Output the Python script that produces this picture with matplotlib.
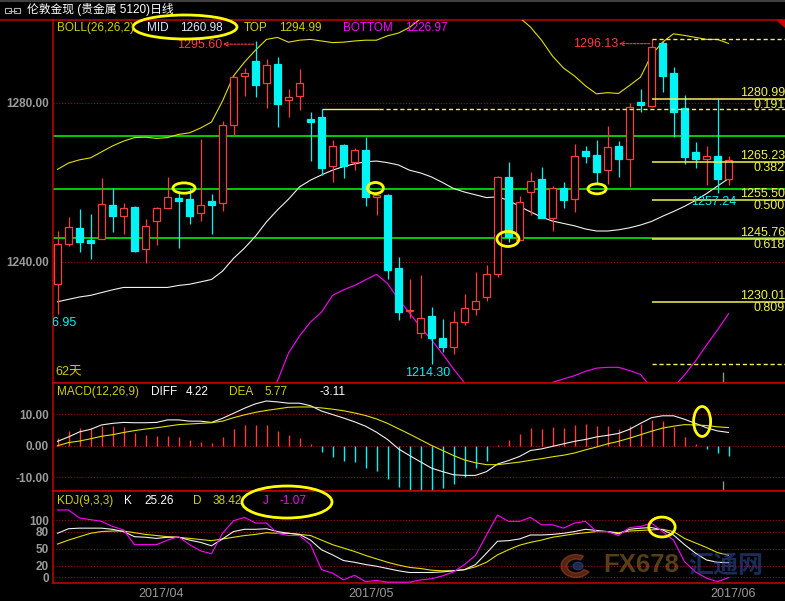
import matplotlib
matplotlib.use('Agg')
import matplotlib.pyplot as plt
from matplotlib.patches import Rectangle, Ellipse, Wedge, Circle
import matplotlib.transforms as mtransforms
import numpy as np

plt.rcParams['font.family'] = ['Liberation Sans', 'Noto Sans CJK SC', 'DejaVu Sans']

# ------------------------------------------------------------
# data
# ------------------------------------------------------------
opens = [1234.5, 1244.5, 1248.5, 1245.5, 1245.7, 1254.3, 1251.5, 1253.9, 1243.2, 1250.2,
         1253.5, 1256.1, 1255.8, 1252.3, 1255.3, 1254.8, 1274.4, 1286.7, 1290.6, 1285.0,
         1289.8, 1280.7, 1281.7, 1275.9, 1276.5, 1264.2, 1269.4, 1265.2, 1268.2, 1256.4,
         1256.9, 1238.5, 1227.6, 1222.1, 1226.4, 1221.0, 1218.7, 1224.8, 1228.1, 1231.1,
         1236.9, 1261.3, 1245.5, 1257.5, 1260.9, 1251.0, 1258.5, 1255.8, 1268.0, 1266.9,
         1263.1, 1269.2, 1265.8, 1280.3, 1279.3, 1295.0, 1287.5, 1278.7, 1267.6, 1266.0,
         1266.7, 1260.8]
highs = [1247.8, 1251.3, 1253.3, 1252.1, 1261.1, 1258.6, 1254.8, 1254.2, 1250.8, 1253.8,
         1261.4, 1257.3, 1258.5, 1270.9, 1257.1, 1275.5, 1286.8, 1288.8, 1295.6, 1291.0,
         1291.5, 1283.5, 1288.6, 1277.7, 1278.4, 1270.7, 1269.7, 1268.7, 1271.4, 1257.1,
         1257.1, 1241.3, 1235.7, 1236.7, 1228.6, 1225.7, 1227.7, 1232.0, 1237.4, 1239.2,
         1261.6, 1265.2, 1256.6, 1262.6, 1263.8, 1259.1, 1260.0, 1269.7, 1269.2, 1270.7,
         1274.2, 1270.5, 1279.9, 1283.4, 1296.13, 1295.5, 1289.0, 1282.0, 1270.3, 1269.2,
         1281.0, 1266.7]
lows = [1226.95, 1243.9, 1242.5, 1240.8, 1245.7, 1247.6, 1247.1, 1242.4, 1239.7, 1244.4,
        1253.5, 1243.6, 1249.6, 1250.4, 1247.1, 1252.9, 1272.0, 1281.8, 1281.4, 1278.8,
        1274.0, 1276.6, 1278.2, 1265.5, 1261.9, 1260.0, 1261.2, 1263.1, 1254.2, 1251.8,
        1235.7, 1225.4, 1225.8, 1220.8, 1214.3, 1217.4, 1216.8, 1224.1, 1226.7, 1230.2,
        1236.3, 1245.1, 1245.5, 1251.8, 1251.0, 1247.9, 1253.5, 1252.7, 1265.0, 1259.6,
        1259.6, 1261.5, 1258.9, 1277.8, 1279.0, 1282.7, 1271.4, 1264.6, 1263.6, 1259.4,
        1257.24, 1259.4]
closes = [1244.5, 1248.7, 1245.1, 1244.9, 1254.6, 1251.6, 1253.5, 1242.8, 1249.1, 1253.5,
          1256.4, 1255.4, 1251.6, 1254.3, 1254.4, 1274.4, 1286.5, 1287.5, 1284.5, 1289.6,
          1279.8, 1281.4, 1285.0, 1275.3, 1263.7, 1269.2, 1264.2, 1268.2, 1256.4, 1256.9,
          1238.0, 1227.5, 1228.0, 1225.8, 1220.8, 1218.7, 1224.8, 1228.4, 1230.3, 1236.9,
          1261.3, 1246.4, 1255.2, 1260.4, 1251.0, 1258.5, 1255.6, 1266.7, 1266.7, 1262.7,
          1268.9, 1265.8, 1279.1, 1279.6, 1294.2, 1286.9, 1277.8, 1266.5, 1265.8, 1266.6,
          1261.0, 1265.7]

boll_top = [1263.3, 1264.9, 1265.7, 1266.2, 1267.7, 1269.2, 1270.4, 1271.3, 1271.4, 1271.1,
            1271.3, 1272.1, 1272.5, 1273.7, 1275.2, 1280.5, 1286.8, 1290.3, 1293.3, 1296.0,
            1296.5, 1295.3, 1295.8, 1296.0, 1295.6, 1295.2, 1295.3, 1295.6, 1295.8, 1295.8,
            1296.9, 1297.6, 1299.0, 1301.2, 1302.4, 1303.1, 1303.9, 1305.0, 1306.0, 1306.0,
            1305.0, 1303.5, 1301.5, 1299.1, 1295.8, 1291.8, 1288.8, 1286.8, 1284.3, 1282.3,
            1282.6, 1282.4, 1284.4, 1286.5, 1292.1, 1295.3, 1297.4, 1297.0, 1296.5, 1296.0,
            1296.0, 1294.99]
boll_mid = [1230.0, 1230.6, 1231.2, 1231.6, 1232.3, 1233.0, 1233.6, 1233.6, 1233.6, 1233.6,
            1233.6, 1234.1, 1234.4, 1235.0, 1235.6, 1237.7, 1240.9, 1243.5, 1246.5, 1250.1,
            1253.1, 1255.8, 1258.9, 1260.6, 1261.9, 1263.1, 1264.0, 1264.7, 1265.2, 1265.4,
            1265.0, 1264.4, 1263.1, 1262.4, 1261.4, 1260.0, 1258.5, 1257.6, 1256.9, 1256.2,
            1256.4, 1255.5, 1254.0, 1252.6, 1251.3, 1250.3, 1249.7, 1249.1, 1248.3, 1247.8,
            1247.8, 1248.1, 1248.6, 1249.3, 1250.2, 1251.5, 1252.7, 1254.0, 1255.5, 1257.2,
            1259.1, 1260.98]
boll_bot = [1196.7, 1196.3, 1196.7, 1197.0, 1196.9, 1196.8, 1196.8, 1195.9, 1195.8, 1196.1,
            1195.9, 1196.1, 1196.3, 1196.3, 1196.0, 1194.9, 1195.0, 1196.7, 1199.7, 1204.2,
            1210.1, 1217.1, 1221.4, 1224.9, 1227.4, 1231.6, 1233.0, 1234.1, 1235.5, 1236.9,
            1234.6, 1230.6, 1227.2, 1223.6, 1220.4, 1216.9, 1213.1, 1209.6, 1207.8, 1206.4,
            1207.8, 1207.5, 1206.5, 1206.1, 1206.8, 1209.7, 1210.6, 1211.4, 1212.5, 1213.3,
            1213.5, 1213.5, 1212.7, 1211.7, 1208.3, 1207.7, 1208.5, 1211.6, 1215.1, 1219.1,
            1222.9, 1226.97]

macd_diff = [1.4, 2.8, 4.4, 5.2, 6.6, 7.1, 7.4, 7.3, 7.3, 7.4,
             8.2, 8.2, 7.8, 7.8, 7.4, 8.7, 10.3, 11.9, 13.3, 14.2,
             13.9, 13.5, 13.5, 12.7, 11.0, 9.9, 8.8, 7.6, 6.2, 4.3,
             2.0, -1.0, -3.1, -5.1, -7.1, -8.2, -9.2, -9.4, -9.4, -8.2,
             -5.8, -4.7, -3.4, -1.5, -1.0, -0.2, 0.6, 1.4, 2.0, 2.8,
             3.3, 3.9, 5.2, 7.1, 8.9, 9.5, 9.5, 8.4, 7.1, 5.7,
             4.7, 4.22]
macd_dea = [0.0, 1.0, 1.5, 2.2, 3.0, 3.5, 4.2, 4.8, 5.3, 5.7,
            6.2, 6.7, 6.9, 7.1, 7.3, 7.8, 8.9, 9.8, 10.6, 11.2,
            11.7, 12.2, 12.3, 12.3, 12.0, 11.6, 11.1, 10.4, 9.6, 8.5,
            7.1, 5.4, 3.7, 1.9, 0.1, -1.5, -3.1, -4.5, -5.4, -6.0,
            -6.0, -5.6, -5.2, -4.6, -4.1, -3.5, -3.0, -2.3, -1.3, -0.4,
            0.6, 1.4, 2.4, 3.5, 4.6, 5.6, 6.2, 6.7, 6.6, 6.4,
            6.0, 5.77]
macd_hist = [2.3, 4.6, 5.5, 5.5, 6.3, 6.3, 5.9, 4.1, 3.3, 3.1,
             3.1, 2.7, 1.7, 1.1, 0.9, 2.7, 5.3, 6.6, 6.6, 6.6,
             4.6, 3.3, 2.6, 0.4, -2.0, -3.7, -4.9, -5.3, -6.9, -8.0,
             -10.4, -13.1, -13.9, -14.2, -14.2, -13.5, -12.0, -9.8, -7.1, -4.7,
             0.1, 1.7, 3.7, 5.7, 5.3, 6.0, 5.7, 6.6, 7.0, 6.3,
             6.3, 5.3, 6.3, 6.8, 8.2, 7.8, 6.0, 2.8, 0.5, -0.9,
             -2.4, -3.11]

kdj_k = [77, 85, 86, 86, 86, 84, 80, 71, 70, 68,
         70, 70, 65, 61, 55, 67, 80, 84, 84, 85,
         80, 77, 75, 65, 48, 39, 29, 26, 22, 19,
         15, 11, 8, 8, 8, 9, 11, 13, 22, 42,
         63, 64, 67, 74, 74, 75, 77, 80, 84, 82,
         80, 76, 84, 86, 87, 83, 74, 57, 42, 30,
         26, 25.26]
kdj_d = [58, 65, 71, 77, 80, 81, 81, 78, 75, 73,
         71, 70, 68, 66, 64, 67, 70, 73, 75, 78,
         77, 77, 75, 73, 65, 57, 51, 45, 38, 32,
         26, 21, 17, 15, 12, 11, 11, 13, 18, 26,
         39, 48, 56, 61, 65, 70, 73, 76, 78, 80,
         80, 78, 81, 82, 83, 84, 80, 68, 60, 52,
         43, 38.42]
kdj_j = [118, 118, 104, 101, 98, 89, 83, 57, 57, 57,
         65, 71, 57, 46, 41, 77, 99, 105, 95, 95,
         77, 73, 73, 57, 13, 7, -5, 3, -8, -6,
         -9, -9, -9, -5, -3, 2, 9, 22, 38, 74,
         109, 98, 98, 105, 92, 92, 86, 95, 98, 80,
         80, 73, 87, 89, 95, 80, 65, 27, 9, -2,
         -8, -1.07]

green_levels = [1271.6, 1258.4, 1246.0]
fib_values = [1280.99, 1265.23, 1255.50, 1245.76, 1230.01]
fib_ratios = ['0.191', '0.382', '0.500', '0.618', '0.809']

price_ticks = [1280, 1240]
price_ticklabels = ['1280.00', '1240.00']
macd_ticks = [10, 0, -10]
macd_ticklabels = ['10.00', '0.00', '-10.00']
kdj_ticks = [100, 80, 50, 20, 0]
kdj_ticklabels = ['100', '80', '50', '20', '0']

month_labels = ['2017/04', '2017/05', '2017/06']
month_pos = [9.4, 28.5, 61.4]

# ------------------------------------------------------------
# colours
# ------------------------------------------------------------
RED = '#ff3c3c'
CYAN = '#00f4f4'
AXRED = '#c80000'
GRID = '#a00000'
GRAY = '#9a9a9a'
YEL = '#e0e000'
FIBY = '#f2f250'
OLIVE = '#d0d000'
GREEN = '#00ee00'
MAG = '#ff00ff'
LBLUE = '#d8e8ff'

W, H = 785, 601
def fx(px): return px / W
def fy(py): return 1 - py / H

fig = plt.figure(figsize=(7.85, 6.01), dpi=100, facecolor='black')

X0, STEP = 57.5, 11.0
XLIM = ((53 - X0) / STEP, (785 - X0) / STEP)

ax1 = fig.add_axes([fx(53), fy(383), (785 - 53) / W, (383 - 20) / H])
ax2 = fig.add_axes([fx(53), fy(491), (785 - 53) / W, (491 - 383) / H])
ax3 = fig.add_axes([fx(53), fy(583), (785 - 53) / W, (583 - 491) / H])

for ax in (ax1, ax2, ax3):
    ax.set_facecolor('black')
    ax.set_xlim(*XLIM)
    ax.set_xticks([])
    for s in ('top', 'bottom', 'left'):
        ax.spines[s].set_color(AXRED)
        ax.spines[s].set_linewidth(1.1)
    ax.spines['right'].set_visible(False)
    ax.tick_params(axis='y', length=0, pad=3, labelcolor=GRAY, labelsize=8.5)

dotted = (0, (1, 1.6))

# ------------------------------------------------------------
# main panel: candles + BOLL
# ------------------------------------------------------------
ax1.set_ylim(1209.56, 1300.88)
ax1.set_yticks(price_ticks)
ax1.set_yticklabels(price_ticklabels, fontweight='bold')
for v in price_ticks:
    ax1.axhline(v, color=GRID, lw=0.8, ls=dotted, zorder=1)
for v in green_levels:
    ax1.axhline(v, color=GREEN, lw=1.2, zorder=2)

x = np.arange(len(closes))
BW = 0.68
for i in x:
    o, h, l, c = opens[i], highs[i], lows[i], closes[i]
    up = c >= o
    col = RED if up else CYAN
    top, bot = max(o, c), min(o, c)
    ax1.vlines(i, top, h, color=col, lw=0.9, zorder=4)
    ax1.vlines(i, l, bot, color=col, lw=0.9, zorder=4)
    ax1.add_patch(Rectangle((i - BW / 2, bot), BW, top - bot,
                            facecolor='black' if up else CYAN,
                            edgecolor=col, lw=0.9, zorder=5))

ax1.plot(x, boll_top, color=YEL, lw=0.8, zorder=3)
ax1.plot(x, boll_mid, color='#f0f0f0', lw=0.8, zorder=3)
ax1.plot(x, boll_bot, color=MAG, lw=0.8, zorder=3)

# fibonacci levels from the swing high
i_hi = int(np.argmax(highs))
i_lo = int(np.argmin(lows))
blend = mtransforms.blended_transform_factory(ax1.transAxes, ax1.transData)
ax1.hlines(fib_values, i_hi, XLIM[1], color=FIBY, lw=1.1, zorder=6)
ax1.hlines([highs[i_hi], lows[i_lo]], i_hi, XLIM[1], color=FIBY, lw=1.0,
           ls=(0, (3, 2)), zorder=6)
for v, r in zip(fib_values, fib_ratios):
    ax1.text(1.0, v, f'{v:.2f}', transform=blend, ha='right', va='bottom',
             color=FIBY, fontsize=9, zorder=7)
    ax1.text(1.0, v, r, transform=blend, ha='right', va='top',
             color=FIBY, fontsize=9, zorder=7)

# horizontal line from an earlier high
ax1.hlines(highs[24], 24, 29.2, color=FIBY, lw=1.0, zorder=6)
ax1.hlines(highs[24], 29.2, XLIM[1], color=FIBY, lw=1.0, ls=(0, (3, 2)), zorder=6)

# high / low markers
i_hi1 = int(np.argmax(highs[:30]))
for idx, dy in ((i_hi1, 1.0), (i_hi, 1.4)):
    ax1.text(idx - 3.0, highs[idx] - dy, f'{highs[idx]:.2f}', ha='right', va='center',
             color=RED, fontsize=9, zorder=8)
    ax1.annotate('', xy=(idx - 2.95, highs[idx] - dy + 0.2), xytext=(idx - 0.15, highs[idx] - dy + 0.2),
                 arrowprops=dict(arrowstyle='->', color=RED, lw=0.8, ls=(0, (2, 1.2)),
                                 mutation_scale=7, shrinkA=0, shrinkB=0), zorder=8)
for idx in (0, i_lo, 60):
    ax1.text(idx - 0.35, lows[idx] - 0.7, f'{lows[idx]:.2f}', ha='center', va='top',
             color=CYAN, fontsize=9, zorder=8, clip_on=True)

ax1.text(0.003, 0.012, '62天', transform=ax1.transAxes, color=OLIVE, fontsize=9,
         ha='left', va='bottom')

# annotation ellipses (drawn on the chart)
for cx, cy, w, h in ((11.5, 1258.6, 2.0, 2.6), (28.9, 1258.6, 1.45, 2.8),
                     (40.95, 1245.8, 2.0, 3.8), (49.05, 1258.4, 1.65, 2.5)):
    ax1.add_patch(Ellipse((cx, cy), w, h, fill=False, edgecolor='#ffff00', lw=2.0, zorder=9))

# ------------------------------------------------------------
# MACD panel
# ------------------------------------------------------------
ax2.set_ylim(-14.35, 19.9)
ax2.set_yticks(macd_ticks)
ax2.set_yticklabels(macd_ticklabels, fontweight='bold')
for v in macd_ticks:
    ax2.axhline(v, color=GRID, lw=0.8, ls=dotted, zorder=1)
hist_cols = [RED if v >= 0 else CYAN for v in macd_hist]
ax2.vlines(x, 0, macd_hist, colors=hist_cols, lw=1.0, zorder=3)
ax2.plot(x, macd_diff, color='#f0f0f0', lw=0.8, zorder=4)
ax2.plot(x, macd_dea, color=YEL, lw=0.8, zorder=4)
ax2.add_patch(Ellipse((58.6, 7.7), 1.55, 9.5, fill=False, edgecolor='#ffff00', lw=2.0, zorder=9))

# ------------------------------------------------------------
# KDJ panel
# ------------------------------------------------------------
ax3.set_ylim(-10.5, 151.4)
ax3.set_yticks(kdj_ticks)
ax3.set_yticklabels(kdj_ticklabels, fontweight='bold')
for v in kdj_ticks:
    ax3.axhline(v, color=GRID, lw=0.8, ls=dotted, zorder=1)
ax3.plot(x, kdj_d, color=YEL, lw=0.8, zorder=3)
ax3.plot(x, kdj_k, color='#f0f0f0', lw=0.8, zorder=4)
ax3.plot(x, kdj_j, color=MAG, lw=0.8, zorder=4)
ax3.add_patch(Ellipse((54.95, 88), 2.4, 35, fill=False, edgecolor='#ffff00', lw=2.0, zorder=9))

xblend = mtransforms.blended_transform_factory(ax3.transData, ax3.transAxes)
for lab, pos in zip(month_labels, month_pos):
    ax3.text(pos, -0.12, lab, transform=xblend, ha='center', va='center',
             color=GRAY, fontsize=9, clip_on=False)

# month tick at panel borders
for ax in (ax1, ax2):
    ax.vlines(60.5, 0, 0.03 if ax is ax1 else 0.09, transform=mtransforms.blended_transform_factory(
        ax.transData, ax.transAxes), color='#909090', lw=1.0)

# ------------------------------------------------------------
# headers and title
# ------------------------------------------------------------
def ftext(px, py, s, color, size=8.5, **kw):
    fig.text(fx(px), fy(py), s, color=color, fontsize=size, ha='left', va='center', **kw)

fig.add_artist(plt.Line2D([0, 1], [fy(0.5), fy(0.5)], color='#404040', lw=1.5))
fig.add_artist(plt.Line2D([0, fx(53)], [fy(20), fy(20)], color=AXRED, lw=1.1))
ftext(27, 10, '伦敦金现 (贵金属 5120)日线', 'white', size=8.5)
fig.add_artist(Rectangle((fx(5), fy(13)), 6 / W, 5 / H, fill=False, edgecolor='#b0b0b0', lw=0.8))
fig.add_artist(Rectangle((fx(14), fy(13)), 6 / W, 5 / H, fill=False, edgecolor='#b0b0b0', lw=0.8))
fig.add_artist(plt.Line2D([fx(9), fx(16)], [fy(10.5), fy(10.5)], color='#b0b0b0', lw=0.8))

ftext(57, 28, 'BOLL(26,26,2)', OLIVE)
ftext(146.5, 28, 'MID', LBLUE)
ftext(180, 28, '1260.98', LBLUE)
ftext(244, 28, 'TOP', OLIVE)
ftext(279, 28, '1294.99', OLIVE)
ftext(343, 28, 'BOTTOM', MAG)
ftext(405, 28, '1226.97', MAG)
fig.add_artist(Ellipse((fx(185), fy(27)), 104 / W, 24 / H, fill=False, edgecolor='#ffff00', lw=2.0))

ftext(57, 392, 'MACD(12,26,9)', OLIVE)
ftext(151, 392, 'DIFF', 'white')
ftext(186, 392, '4.22', 'white')
ftext(229.5, 392, 'DEA', OLIVE)
ftext(264, 392, '5.77', OLIVE)
ftext(319, 392, '-3.11', 'white')

ftext(57, 501, 'KDJ(9,3,3)', OLIVE)
ftext(124, 501, 'K', 'white')
ftext(144, 501, '25.26', 'white')
ftext(193, 501, 'D', OLIVE)
ftext(213, 501, '38.42', OLIVE)
ftext(263, 501, 'J', MAG)
ftext(280, 501, '-1.07', MAG)
fig.add_artist(Ellipse((fx(287), fy(502)), 90 / W, 32 / H, fill=False, edgecolor='#ffff00', lw=2.0))

# corner marker
fig.add_artist(plt.Polygon([[fx(777), fy(20)], [fx(785), fy(20)], [fx(785), fy(27)]],
                           closed=True, color=AXRED))

# watermark
fig.add_artist(Wedge((fx(576), fy(566)), 15 / W, 60, 330, width=6 / W, color='#c0502a', alpha=0.45))
fig.add_artist(Circle((fx(578), fy(566)), 5 / W, color='#3050a0', alpha=0.5))
fig.text(fx(603), fy(565), 'FX678', color='#c08a30', alpha=0.45, fontsize=18.5,
         fontweight='bold', ha='left', va='center', family=['Liberation Sans'])
fig.text(fx(688), fy(566), '汇通网', color='#3050a0', alpha=0.55, fontsize=18,
         fontweight='bold', ha='left', va='center', family=['Noto Sans CJK SC'])

fig.savefig('out.png', dpi=100, facecolor='black')
